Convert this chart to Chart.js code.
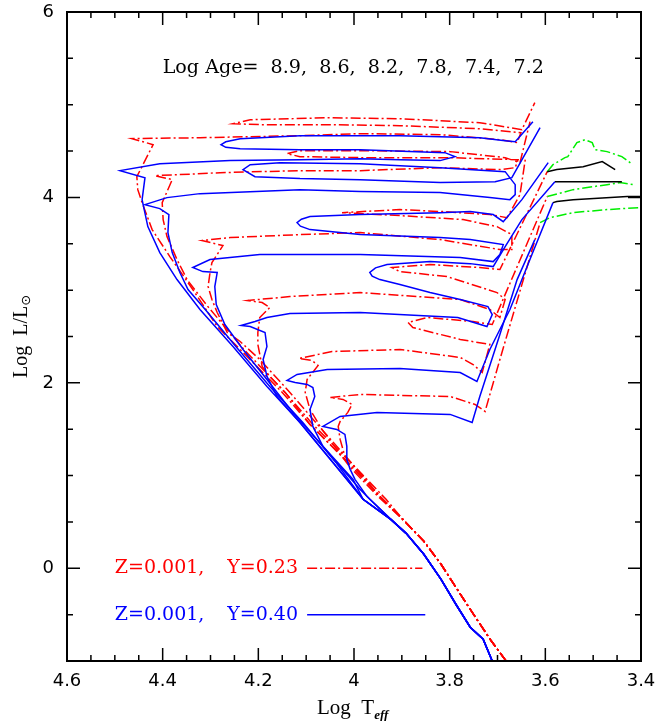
<!DOCTYPE html>
<html>
<head>
<meta charset="utf-8">
<style>
  html, body { margin: 0; padding: 0; background: #fff; overflow: hidden; }
</style>
<script src="https://cdn.jsdelivr.net/npm/chart.js@4.4.1/dist/chart.umd.min.js"></script>
</head>
<body>
<canvas id="hr" width="657" height="721"></canvas>
<script>
// isochrone ages and model labels
var ages = [8.9, 8.6, 8.2, 7.8, 7.4, 7.2];
var zValues = ["0.001", "0.001"];
var yValues = ["0.23", "0.40"];

var xTickValues = [4.6, 4.4, 4.2, 4.0, 3.8, 3.6, 3.4];
var yTickValues = [0, 2, 4, 6];

// [log Teff, log L/Lsun]
// Y=0.40 (blue, solid)
var blueZams = [[3.711,-1.0],[3.730,-0.765],[3.757,-0.636],[3.787,-0.388],[3.818,-0.119],[3.854,0.151],[3.891,0.377],[3.923,0.528]];
var blue72 = [[3.981,0.744],[4.044,1.142],[4.113,1.573],[4.182,1.961],[4.253,2.392],[4.322,2.791],[4.370,3.114],[4.406,3.405],[4.431,3.685],[4.443,3.976],[4.437,4.213],[4.489,4.289],[4.406,4.364],[4.259,4.397],[4.113,4.407],[3.987,4.418],[3.904,4.407],[3.820,4.397],[3.789,4.440],[3.810,4.483],[3.987,4.515],[4.113,4.515],[4.238,4.526],[4.268,4.540],[4.278,4.569],[4.268,4.600],[4.238,4.634],[4.113,4.666],[3.904,4.666],[3.737,4.644],[3.684,4.612],[3.663,4.601],[3.626,4.817]];
var blue74 = [[3.981,0.744],[4.038,1.142],[4.107,1.573],[4.176,1.961],[4.247,2.392],[4.311,2.791],[4.347,3.007],[4.364,3.190],[4.380,3.405],[4.389,3.621],[4.387,3.815],[4.406,3.879],[4.437,3.922],[4.391,3.998],[4.322,4.041],[4.113,4.084],[3.987,4.063],[3.820,4.052],[3.716,3.998],[3.674,3.976],[3.663,4.030],[3.663,4.138],[3.684,4.278],[3.820,4.321],[3.987,4.364],[4.155,4.375],[4.217,4.353],[4.232,4.300],[4.207,4.224],[4.113,4.203],[3.987,4.192],[3.820,4.160],[3.705,4.170],[3.670,4.213],[3.611,4.752]];
var blue78 = [[3.981,0.744],[4.002,0.959],[4.065,1.315],[4.128,1.681],[4.182,2.037],[4.232,2.360],[4.270,2.629],[4.288,2.845],[4.291,3.039],[4.286,3.190],[4.316,3.200],[4.337,3.244],[4.301,3.330],[4.197,3.384],[3.987,3.384],[3.778,3.351],[3.709,3.308],[3.695,3.384],[3.688,3.491],[3.757,3.545],[3.820,3.567],[3.987,3.599],[4.092,3.653],[4.112,3.690],[4.119,3.728],[4.110,3.765],[4.092,3.793],[3.987,3.815],[3.820,3.836],[3.757,3.847],[3.709,3.815],[3.688,3.739],[3.649,3.976],[3.594,4.375]];
var blue82 = [[3.981,0.744],[4.044,1.142],[4.113,1.573],[4.161,1.853],[4.182,2.069],[4.190,2.252],[4.182,2.392],[4.186,2.543],[4.217,2.608],[4.236,2.619],[4.207,2.662],[4.182,2.705],[4.134,2.748],[3.987,2.759],[3.783,2.705],[3.722,2.608],[3.711,2.737],[3.720,2.823],[3.778,2.899],[3.841,2.974],[3.904,3.060],[3.946,3.114],[3.962,3.150],[3.967,3.190],[3.955,3.240],[3.931,3.276],[3.841,3.308],[3.757,3.286],[3.709,3.254],[3.684,3.470],[3.649,3.761],[3.580,4.170]];
var blue86 = [[3.967,0.744],[3.987,0.851],[4.029,1.099],[4.065,1.315],[4.086,1.530],[4.092,1.713],[4.082,1.853],[4.086,1.950],[4.098,1.983],[4.123,2.004],[4.140,2.026],[4.119,2.091],[4.056,2.144],[3.904,2.155],[3.778,2.112],[3.743,2.015],[3.716,2.360],[3.674,2.791],[3.628,3.384],[3.584,3.944]];
var blue89 = [[3.973,0.776],[3.998,0.959],[4.008,1.067],[4.015,1.175],[4.015,1.315],[4.019,1.444],[4.036,1.498],[4.065,1.530],[4.029,1.638],[3.952,1.681],[3.799,1.660],[3.753,1.573],[3.737,1.853],[3.695,2.522],[3.659,3.114],[3.622,3.545]];

// Y=0.23 (red, dash-dot)
var redZams = [[3.682,-1.0],[3.714,-0.776],[3.749,-0.506],[3.783,-0.237],[3.818,0.043],[3.854,0.291],[3.898,0.528]];
var red72 = [[3.946,0.776],[4.019,1.175],[4.092,1.552],[4.150,1.897],[4.238,2.360],[4.286,2.608],[4.337,3.007],[4.385,3.362],[4.422,3.653],[4.443,3.944],[4.452,4.084],[4.454,4.224],[4.420,4.569],[4.464,4.634],[4.322,4.644],[4.113,4.666],[3.987,4.688],[3.820,4.677],[3.695,4.623],[3.659,4.591],[3.651,4.698],[3.737,4.741],[3.904,4.774],[4.050,4.785],[4.197,4.785],[4.253,4.795],[4.217,4.838],[4.050,4.860],[3.904,4.849],[3.737,4.806],[3.649,4.731],[3.622,5.022]];
var red74 = [[3.946,0.776],[4.013,1.175],[4.086,1.552],[4.144,1.897],[4.230,2.360],[4.309,2.845],[4.349,3.114],[4.370,3.330],[4.391,3.578],[4.399,3.761],[4.401,3.944],[4.380,4.192],[4.416,4.235],[4.364,4.246],[4.280,4.267],[4.113,4.289],[3.987,4.289],[3.820,4.321],[3.695,4.300],[3.663,4.321],[3.657,4.407],[3.799,4.429],[3.987,4.429],[4.113,4.440],[4.140,4.472],[4.113,4.504],[3.987,4.504],[3.799,4.494],[3.684,4.429],[3.653,4.375],[3.632,4.817]];
var red78 = [[3.946,0.776],[4.008,1.153],[4.071,1.519],[4.134,1.897],[4.197,2.252],[4.238,2.446],[4.265,2.543],[4.286,2.759],[4.297,2.899],[4.305,3.039],[4.301,3.190],[4.297,3.297],[4.274,3.481],[4.318,3.535],[4.259,3.567],[4.113,3.599],[3.987,3.621],[3.820,3.545],[3.695,3.438],[3.670,3.438],[3.670,3.599],[3.701,3.685],[3.772,3.761],[3.904,3.804],[4.025,3.836],[3.904,3.869],[3.814,3.847],[3.716,3.815],[3.680,3.782],[3.653,4.030],[3.642,4.407]];
var red82 = [[3.946,0.776],[4.019,1.175],[4.092,1.552],[4.144,1.897],[4.176,2.069],[4.192,2.177],[4.201,2.414],[4.201,2.543],[4.197,2.705],[4.176,2.813],[4.192,2.866],[4.222,2.888],[4.134,2.931],[3.987,2.974],[3.778,2.899],[3.716,2.791],[3.695,2.705],[3.684,2.899],[3.701,2.974],[3.806,3.147],[3.904,3.200],[3.921,3.244],[3.841,3.276],[3.737,3.244],[3.695,3.222],[3.596,4.278]];
var red86 = [[3.950,0.776],[4.008,1.088],[4.036,1.282],[4.067,1.498],[4.092,1.713],[4.102,1.897],[4.098,2.037],[4.075,2.188],[4.088,2.241],[4.115,2.263],[4.046,2.338],[3.904,2.360],[3.778,2.274],[3.751,2.198],[3.732,2.112],[3.716,2.414],[3.778,2.468],[3.877,2.597],[3.887,2.651],[3.847,2.705],[3.751,2.662],[3.711,2.629],[3.596,4.009]];
var red89 = [[3.933,0.744],[3.983,1.013],[4.019,1.207],[4.029,1.390],[4.033,1.530],[4.029,1.584],[4.013,1.681],[4.004,1.767],[4.023,1.821],[4.050,1.843],[3.987,1.875],[3.799,1.853],[3.747,1.767],[3.726,1.692],[3.695,2.252],[3.611,3.728]];

// cool extensions of the three oldest isochrones
var greenA = [[3.596,4.278],[3.584,4.353],[3.559,4.429],[3.553,4.440],[3.534,4.591],[3.517,4.623],[3.502,4.591],[3.496,4.515],[3.471,4.494],[3.440,4.440],[3.417,4.353]];
var greenB = [[3.596,4.009],[3.542,4.084],[3.471,4.138],[3.444,4.160],[3.417,4.138]];
var greenC = [[3.611,3.728],[3.590,3.782],[3.542,3.836],[3.471,3.869],[3.402,3.890]];
var blackA = [[3.596,4.278],[3.576,4.300],[3.521,4.332],[3.481,4.386],[3.454,4.300]];
var blackB = [[3.580,4.170],[3.527,4.170],[3.440,4.170]];
var blackC = [[3.584,3.944],[3.576,3.955],[3.542,3.976],[3.429,4.009],[3.402,4.009]];

// legend sample lines
var redKey = [[4.098,0],[3.857,0]];
var blueKey = [[4.098,-0.5],[3.851,-0.5]];

function pts(arr) {
  return arr.map(function(p) { return { x : p[0], y : p[1] }; });
}

var dashDot = [10, 3, 2, 3];

function track(arr, color, dashed) {
  return {
    data : pts(arr),
    showLine : true,
    borderColor : color,
    backgroundColor : color,
    borderWidth : 1.5,
    borderDash : dashed ? dashDot : [],
    pointRadius : 0,
    tension : 0,
    fill : false
  };
}

var datasets = [
  track(blueZams.concat(blue72), "#0000ff", false),
  track(blueZams.concat(blue74), "#0000ff", false),
  track(blueZams.concat(blue78), "#0000ff", false),
  track(blueZams.concat(blue82), "#0000ff", false),
  track(blueZams.concat(blue86), "#0000ff", false),
  track(blueZams.concat(blue89), "#0000ff", false),
  track(blackA, "#000000", false),
  track(blackB, "#000000", false),
  track(blackC, "#000000", false),
  track(blueKey, "#0000ff", false),
  track(redZams.concat(red72), "#ff0000", true),
  track(redZams.concat(red74), "#ff0000", true),
  track(redZams.concat(red78), "#ff0000", true),
  track(redZams.concat(red82), "#ff0000", true),
  track(redZams.concat(red86), "#ff0000", true),
  track(redZams.concat(red89), "#ff0000", true),
  track(greenA, "#00ee00", true),
  track(greenB, "#00ee00", true),
  track(greenC, "#00ee00", true),
  track(redKey, "#ff0000", true)
];

// frame, inward ticks and the text annotations
var frame = {
  id : "frame",
  afterDatasetsDraw : function(chart) {
    var ctx = chart.ctx, a = chart.chartArea;
    var xs = chart.scales.x, ys = chart.scales.y;
    ctx.save();
    ctx.strokeStyle = "#000";
    ctx.lineWidth = 2;
    ctx.strokeRect(a.left, a.top, a.right - a.left, a.bottom - a.top);

    ctx.lineWidth = 1.5;
    ctx.beginPath();
    for (var i = 0; i <= 24; i++) {
      var px = xs.getPixelForValue(3.4 + i * 0.05);
      var len = i % 4 === 0 ? 13 : 6;
      ctx.moveTo(px, a.bottom); ctx.lineTo(px, a.bottom - len);
      ctx.moveTo(px, a.top); ctx.lineTo(px, a.top + len);
    }
    for (var j = 0; j <= 14; j++) {
      var py = ys.getPixelForValue(-1 + j * 0.5);
      var l2 = (j - 2) % 4 === 0 ? 13 : 6;
      ctx.moveTo(a.left, py); ctx.lineTo(a.left + l2, py);
      ctx.moveTo(a.right, py); ctx.lineTo(a.right - l2, py);
    }
    ctx.stroke();

    // age list, stretched to span the same range as in the figure
    ctx.fillStyle = "#000";
    ctx.font = '19px "DejaVu Serif"';
    ctx.textBaseline = "alphabetic";
    ctx.textAlign = "left";
    var ageText = "Log Age=  " + ages.map(function(v) { return v.toFixed(1); }).join(",  ");
    var ax0 = xs.getPixelForValue(4.40), ax1 = xs.getPixelForValue(3.603);
    var aw = ctx.measureText(ageText).width;
    ctx.save();
    ctx.translate(ax0, ys.getPixelForValue(5.345));
    ctx.scale((ax1 - ax0) / aw, 1);
    ctx.fillText(ageText, 0, 0);
    ctx.restore();

    // model keys
    ctx.font = '19px "DejaVu Serif"';
    ctx.textBaseline = "middle";
    var keyColors = ["#ff0000", "#0000ff"];
    var keyY = [0, -0.5];
    for (var k = 0; k < 2; k++) {
      ctx.fillStyle = keyColors[k];
      ctx.fillText("Z=" + zValues[k] + ",", xs.getPixelForValue(4.50), ys.getPixelForValue(keyY[k]));
      ctx.fillText("Y=" + yValues[k], xs.getPixelForValue(4.265), ys.getPixelForValue(keyY[k]));
    }

    // x title
    ctx.fillStyle = "#000";
    ctx.textBaseline = "alphabetic";
    ctx.font = '21px "Liberation Serif"';
    var tx = a.left + 250, ty = a.bottom + 53;
    ctx.fillText("Log  T", tx, ty);
    var w = ctx.measureText("Log  T").width;
    ctx.font = 'italic bold 13px "Liberation Serif"';
    ctx.fillText("eff", tx + w, ty + 5);

    // y title
    ctx.save();
    ctx.translate(27, (a.top + a.bottom) / 2);
    ctx.rotate(-Math.PI / 2);
    ctx.font = '20px "Liberation Serif"';
    var main = "Log  L/L";
    var mw = ctx.measureText(main).width;
    ctx.font = '13px "DejaVu Sans"';
    var sw = ctx.measureText("\u2299").width;
    var x0 = -(mw + sw) / 2;
    ctx.font = '20px "Liberation Serif"';
    ctx.fillText(main, x0, 0);
    ctx.font = '13px "DejaVu Sans"';
    ctx.fillText("\u2299", x0 + mw, 3);
    ctx.restore();

    ctx.restore();
  }
};

var tickFont = { family : "DejaVu Sans", size : 18 };

function noPad(s) {
  s.paddingTop = 0; s.paddingBottom = 0; s.paddingLeft = 0; s.paddingRight = 0;
}

var chart = new Chart(document.getElementById("hr"), {
  type : "scatter",
  data : { datasets : datasets },
  options : {
    responsive : false,
    animation : false,
    events : [],
    layout : { padding : { top : 12, right : 16, left : 0, bottom : 0 } },
    plugins : { legend : { display : false }, tooltip : { enabled : false } },
    scales : {
      x : {
        type : "linear",
        reverse : true,
        min : 3.4,
        max : 4.6,
        grid : { display : false, drawTicks : false },
        border : { display : false },
        ticks : {
          font : tickFont,
          color : "#000",
          padding : 10,
          autoSkip : false,
          maxRotation : 0,
          callback : function(v) { return String(parseFloat(Number(v).toFixed(1))); }
        },
        afterBuildTicks : function(s) { s.ticks = xTickValues.map(function(v) { return { value : v }; }); },
        afterFit : function(s) { s.height = 60; noPad(s); }
      },
      y : {
        type : "linear",
        min : -1,
        max : 6,
        grid : { display : false, drawTicks : false },
        border : { display : false },
        ticks : {
          font : tickFont,
          color : "#000",
          padding : 13,
          callback : function(v) { return String(v); }
        },
        afterBuildTicks : function(s) { s.ticks = yTickValues.map(function(v) { return { value : v }; }); },
        afterFit : function(s) { s.width = 67; noPad(s); }
      }
    }
  },
  plugins : [frame]
});
</script>
</body>
</html>
